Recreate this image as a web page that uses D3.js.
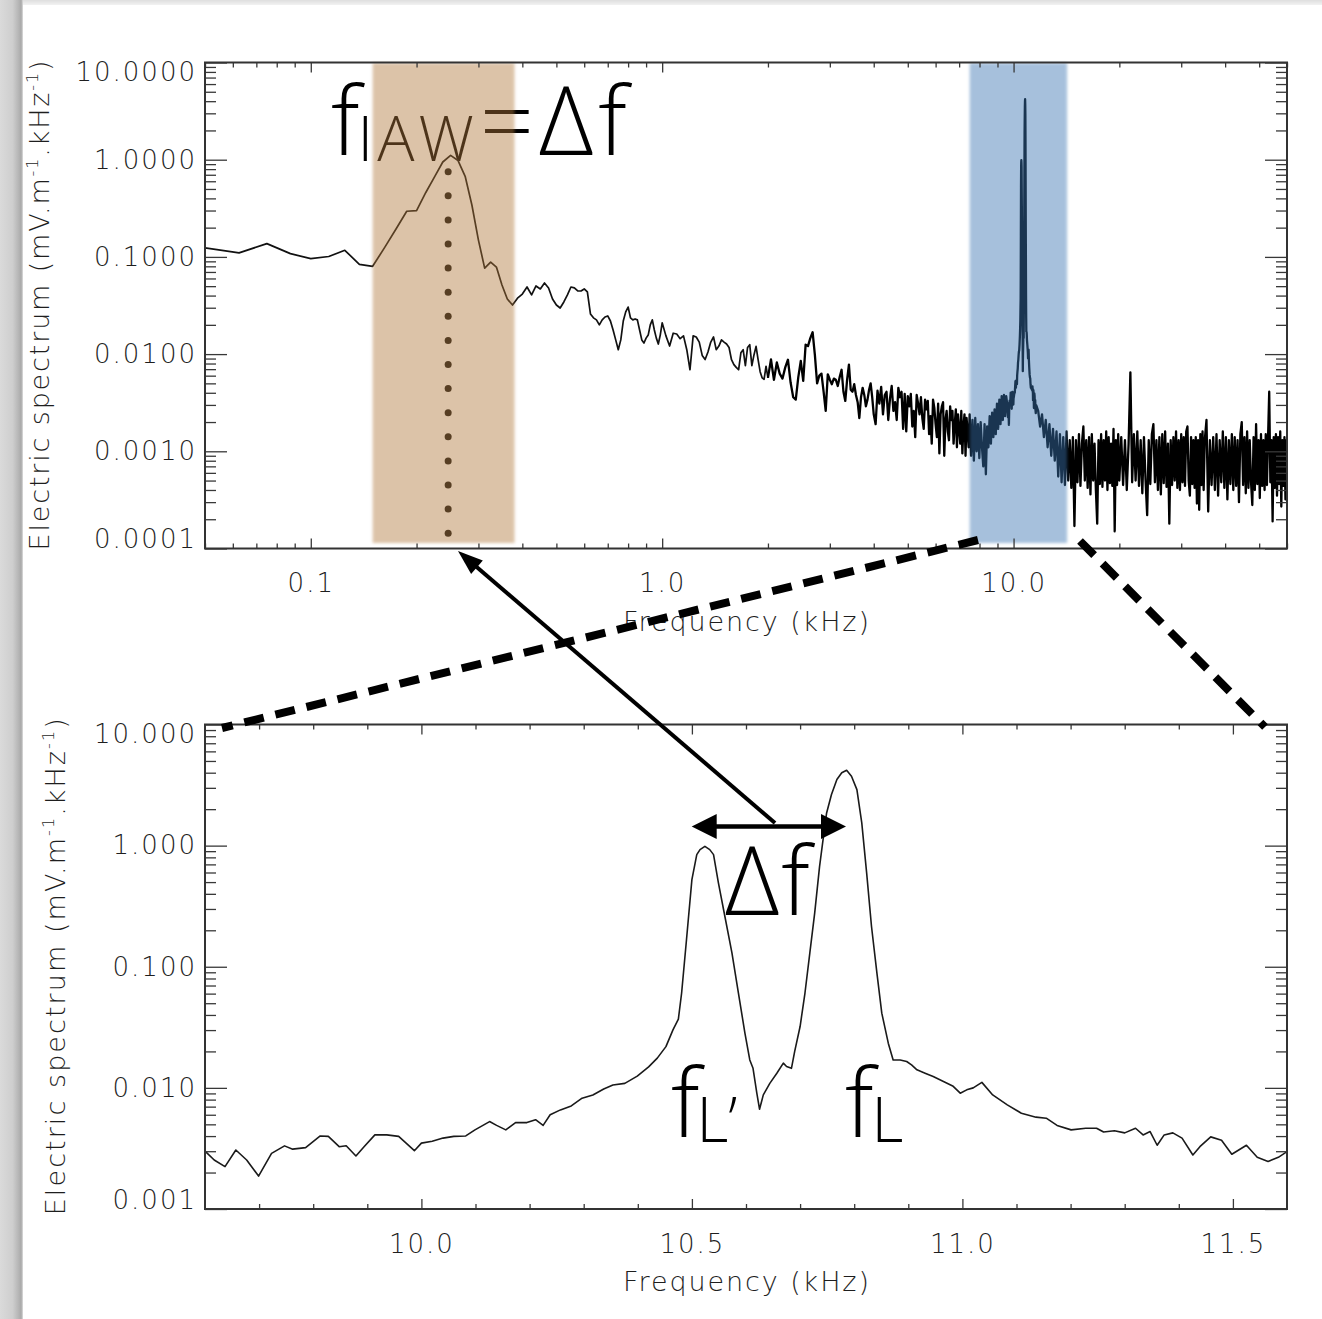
<!DOCTYPE html>
<html><head><meta charset="utf-8">
<script src="https://cdn.jsdelivr.net/npm/d3@7"></script>
<style>
html,body{margin:0;padding:0;background:#fff;}
svg{display:block;}
</style></head><body>
<svg id="chart" width="1322" height="1319"></svg>
<script>
// ================= DATA =================
// Top spectrum (mV.m^-1.kHz^-1), piecewise regular frequency grids [start kHz, step kHz]
const lowStart = 0.05, lowStep = 0.0125;   // 0.05 .. 1.0 kHz
const lowVals = [0.124,0.110,0.137,0.108,0.096,0.101,0.117,0.0837,0.080,0.126,0.195,0.295,0.299,0.46,0.665,0.947,1.107,0.98,0.675,0.34,0.149,0.0767,0.0885,0.0786,0.0514,0.0369,0.032,0.0376,0.0415,
  0.049,0.0406,0.0502,0.0468,0.0539,0.0479,0.0369,0.032,0.0298,0.0344,0.0406,0.049,0.048,0.0446,0.0446,0.0468,0.0436,0.0259,0.0236,0.0225,0.02,0.0225,0.0241,0.0247,0.0219,0.0177,0.014,0.0111,0.014,0.0219,0.0272,0.0305,0.0236,0.0225,0.023,0.0225,0.0177,0.014,0.013,0.0146,0.0157,0.02,0.0225,0.0177,0.0146,0.0127,0.0157,0.021];
const midStart = 1.025, midStep = 0.025;   // 1.025 .. 2.0 kHz
const midVals = [0.0154,0.0121,0.0164,0.0161,0.0144,0.0154,0.0111,0.0069,0.0154,0.0150,0.0133,0.0097,0.0088,0.0105,0.0133,0.015,0.0111,0.0121,0.014,0.0133,
  0.0127,0.0117,0.00875,0.0078,0.0073,0.0069,0.0103,0.0111,0.0076,0.0117,0.0125,0.0076,0.0098,0.012,0.00875,0.0066,0.0057,0.0055,0.0075,0.0057];
const hiStart = 2.04, hiStep = 0.04;       // 2.04 .. 4.0 kHz
const hiVals = [0.0088,0.00545,0.0082,0.0063,0.0056,0.0073,0.00875,0.0051,0.0036,0.0034,
  0.0058,0.0085,0.0053,0.0125,0.0121,0.0146,0.0168,0.0098,0.005,0.006,
  0.0063,0.0041,0.0026,0.0062,0.00545,0.0049,0.0056,0.00545,0.0047,0.0058,
  0.0069,0.0041,0.0033,0.00545,0.0078,0.0043,0.0041,0.0049,0.0038,0.0032,
  0.0022,0.0036,0.0045,0.0038,0.0029,0.0034,0.0043,0.005,0.0036,0.0024];
const upStart = 4.05, upStep = 0.05;       // 4.05 .. 7.5 kHz
const upVals = [0.0019,0.0042,0.0031,0.0046,0.0024,0.0038,0.0041,0.0021,0.0035,0.0047,
  0.0026,0.0032,0.0021,0.0045,0.0036,0.0041,0.0017,0.0039,0.0016,0.0037,
  0.0029,0.0039,0.0018,0.0026,0.0014,0.0038,0.0031,0.0024,0.0036,0.0022,
  0.0017,0.0034,0.0027,0.0033,0.0015,0.0023,0.0012,0.0034,0.0028,0.0019,
  0.0014,0.0031,0.00095,0.0024,0.0029,0.0032,0.0009,0.0021,0.0026,0.0016,
  0.0013,0.0029,0.0021,0.0026,0.0012,0.0019,0.0027,0.0011,0.0024,0.0017,
  0.0012,0.0026,0.00095,0.0018,0.0024,0.0009,0.0022,0.0016,0.0011,0.0024];
const preStart = 7.57, preStep = 0.07;     // 7.57 .. 9.53 kHz
const preVals = [0.0009,0.0021,0.0008,0.0022,0.001,0.0019,0.00085,0.002,0.0011,0.0007,
  0.0019,0.00058,0.0018,0.0011,0.0023,0.0012,0.0025,0.0014,0.0027,0.0015,
  0.0031,0.0017,0.0034,0.0019,0.0037,0.0021,0.0038,0.0023,0.0037];
// 9.6 .. 11.6 kHz (shown enlarged in the lower panel, also used in the upper one)
const zoomFreq = [9.601,9.617,9.637,9.657,9.677,9.699,9.723,9.747,9.762,9.786,9.813,9.828,9.848,9.861,9.879,9.894,9.914,9.936,9.958,9.987,
  10.0,10.02,10.04,10.06,10.082,10.099,10.126,10.139,10.156,10.174,10.195,10.211,10.225,10.238,10.257,10.277,10.297,10.317,10.337,10.354,
  10.376,10.399,10.42,10.436,10.452,10.465,10.475,10.481,10.49,10.5,10.509,10.515,10.524,10.533,10.54,10.549,10.561,10.574,10.586,10.598,
  10.607,10.613,10.62,10.625,10.632,10.644,10.657,10.669,10.675,10.684,10.69,10.7,10.709,10.718,10.727,10.736,10.744,10.749,10.758,10.768,
  10.777,10.786,10.795,10.805,10.814,10.823,10.832,10.842,10.851,10.863,10.872,10.885,10.897,10.906,10.916,10.931,10.946,10.965,10.983,10.996,
  11.008,11.02,11.036,11.056,11.083,11.109,11.136,11.155,11.175,11.201,11.228,11.248,11.261,11.281,11.3,11.32,11.334,11.347,11.36,11.373,
  11.389,11.406,11.426,11.439,11.459,11.479,11.498,11.525,11.545,11.565,11.584,11.6];
const zoomVal = [0.00298,0.00254,0.00224,0.00307,0.00254,0.00187,0.00288,0.00332,0.00312,0.00321,0.00401,0.00398,0.00327,0.00333,0.00274,0.00327,0.00409,0.00409,0.00398,0.00303,
  0.0035,0.00363,0.00385,0.00398,0.00401,0.0045,0.00527,0.0049,0.0045,0.00517,0.00517,0.00546,0.0049,0.006,0.00658,0.0071,0.00822,0.00874,0.00978,0.01055,
  0.0109,0.0125,0.0149,0.0176,0.0219,0.0301,0.037,0.0607,0.167,0.524,0.843,0.927,0.987,0.927,0.843,0.492,0.26,0.13,0.0607,0.0283,
  0.017,0.0145,0.00904,0.00667,0.00875,0.0109,0.0132,0.016,0.015,0.0145,0.02,0.0321,0.0607,0.13,0.278,0.675,1.27,1.86,2.64,3.51,
  3.99,4.19,3.74,2.9,1.54,0.595,0.215,0.0887,0.0414,0.0234,0.017,0.017,0.0165,0.0155,0.0141,0.0132,0.0124,0.0113,0.0103,0.00904,
  0.00963,0.01,0.0111,0.00874,0.00724,0.00618,0.00573,0.00562,0.0049,0.0045,0.00464,0.00464,0.00432,0.00443,0.00425,0.00464,0.00409,0.00436,0.00336,0.00409,
  0.00425,0.00385,0.00279,0.00327,0.00394,0.0037,0.00283,0.00336,0.00267,0.00247,0.00267,0.00298];
const postStart = 11.75, postStep = 0.15;  // 11.75 .. 20 kHz
const postVals = [0.0026,0.0018,0.0024,0.0014,0.0021,0.0011,0.0019,0.0009,0.0017,0.0008,
  0.0016,0.00055,0.0015,0.00048,0.0014,0.00045,0.0016,0.0005,0.0013,0.00042,
  0.0014,0.00017,0.0013,0.00048,0.0015,0.00044,0.0012,0.0018,0.0005,0.0013,
  0.00042,0.0014,0.00036,0.0015,0.0005,0.0012,0.0004,0.00018,0.0013,0.00046,
  0.0015,0.00043,0.0013,0.0005,0.0016,0.0004,0.0014,0.00047,0.0012,0.00044,
  0.0017,0.00015,0.0013,0.00045,0.0015,0.0005];
const farStart = 20.25, farStep = 0.25;    // 20.25 .. 35 kHz
const farVals = [0.0014,0.00045,0.0013,0.0004,0.0012,0.0065,0.00048,0.0015,0.0005,0.0016,
  0.00044,0.0013,0.00037,0.0014,0.0005,0.00022,0.0013,0.00046,0.0015,0.0019,
  0.00048,0.0013,0.0004,0.0014,0.00036,0.0015,0.00047,0.0016,0.00043,0.0012,
  0.00018,0.0013,0.00045,0.0014,0.0005,0.0016,0.00042,0.0013,0.0004,0.0015,
  0.00048,0.0014,0.00044,0.0016,0.0018,0.0005,0.00035,0.0014,0.00046,0.0013,
  0.00042,0.0014,0.00029,0.0013,0.00025,0.0015,0.00045,0.0016,0.0004,0.0013];
const endStart = 35.4, endStep = 0.4;      // 35.4 .. 60.2 kHz
const endVals = [0.0021,0.00024,0.0013,0.00045,0.0014,0.0004,0.0015,0.00035,0.0013,0.00048,
  0.0016,0.00042,0.0014,0.00032,0.0013,0.00046,0.0015,0.0004,0.0014,0.00044,
  0.0013,0.0003,0.0015,0.002,0.00045,0.0014,0.00037,0.0016,0.00042,0.0013,
  0.00048,0.00028,0.0014,0.0004,0.0019,0.00046,0.0013,0.00033,0.0015,0.00044,
  0.0013,0.0004,0.0015,0.00045,0.0014,0.0041,0.00048,0.0013,0.00019,0.0014,
  0.00042,0.0015,0.00035,0.0014,0.00046,0.0016,0.00027,0.0013,0.00044,0.0014,
  0.00032,0.0013,0.00024];

// shaded frequency bands (kHz) and marked ion-acoustic frequency
const iawBand = [0.15, 0.38];
const langmuirBand = [7.5, 14.2];
const fIAW = 0.246;

// tick labels
const topYTicks = [1e-4, 1e-3, 1e-2, 0.1, 1, 10];
const topXTicks = [0.1, 1, 10];
const botYTicks = [1e-3, 1e-2, 0.1, 1, 10];
const botXTicks = [10.0, 10.5, 11.0, 11.5];
const botXMinor = [9.7,9.8,9.9,10.1,10.2,10.3,10.4,10.6,10.7,10.8,10.9,11.1,11.2,11.3,11.4];
const yTitle = ['Electric spectrum (mV.m', '-1', '.kHz', '-1', ')'];
const xTitle = 'Frequency (kHz)';

// ================= BUILD =================
function seg(start, step, vals) { return vals.map((v, i) => ({ f: +(start + i * step).toFixed(4), v })); }
const zoomData = zoomFreq.map((f, i) => ({ f, v: zoomVal[i] }));
const topData = [].concat(
  seg(lowStart, lowStep, lowVals), seg(midStart, midStep, midVals), seg(hiStart, hiStep, hiVals),
  seg(upStart, upStep, upVals), seg(preStart, preStep, preVals), zoomData,
  seg(postStart, postStep, postVals), seg(farStart, farStep, farVals), seg(endStart, endStep, endVals));

function logMinor(lo, hi) {
  const out = [];
  for (let e = -5; e <= 2; e++) for (let m = 2; m <= 9; m++) {
    const v = +(m * Math.pow(10, e)).toPrecision(3);
    if (v >= lo * 0.999 && v <= hi * 1.001) out.push(v);
  }
  return out;
}

const W = 1322, H = 1319;
const svg = d3.select('#chart');
const defs = svg.append('defs');

const xTop = d3.scaleLog().domain([0.05, 60]).range([205, 1287]);
const yTop = d3.scaleLog().domain([1e-4, 10]).range([548.5, 62.5]);
const xBot = d3.scaleLinear().domain([9.6, 11.6]).range([205, 1287]);
const yBot = d3.scaleLog().domain([1e-3, 10]).range([1209, 724.5]);

// background & page shadow
svg.append('rect').attr('width', W).attr('height', H).attr('fill', '#fff');
const tg = defs.append('linearGradient').attr('id', 'tshade').attr('x1', 0).attr('x2', 0).attr('y1', 0).attr('y2', 1);
[[0, '#dedede'], [1, '#f2f2f2']].forEach(([o, c]) => tg.append('stop').attr('offset', o).attr('stop-color', c));
svg.append('rect').attr('x', 0).attr('y', 0).attr('width', W).attr('height', 5).attr('fill', 'url(#tshade)');
const lg = defs.append('linearGradient').attr('id', 'lshade').attr('x1', 0).attr('x2', 1).attr('y1', 0).attr('y2', 0);
[[0, '#dadada'], [0.55, '#cecece'], [0.8, '#b6b6b6'], [0.92, '#a9a9a9'], [1, '#dedede']].forEach(([o, c]) => lg.append('stop').attr('offset', o).attr('stop-color', c));
svg.append('rect').attr('x', 0).attr('y', 0).attr('width', 23).attr('height', H).attr('fill', 'url(#lshade)');

defs.append('filter').attr('id', 'soft').attr('x', '-10%').attr('y', '-2%').attr('width', '120%').attr('height', '104%')
  .append('feGaussianBlur').attr('stdDeviation', 1.4);
defs.append('clipPath').attr('id', 'clipTop').append('rect').attr('x', 205).attr('y', 62.5).attr('width', 1082).attr('height', 486);
defs.append('clipPath').attr('id', 'clipBot').append('rect').attr('x', 205).attr('y', 724.5).attr('width', 1082).attr('height', 484.5);

const tickFont = "'DejaVu Sans', sans-serif";
const annFont = "'Open Sans', 'Noto Sans', sans-serif";
const axisInk = '#1e1e1e';

function richText(parent, x, y, parts) {
  const t = parent.append('text').attr('x', x).attr('y', y)
    .attr('font-family', annFont).attr('font-weight', 300).attr('fill', '#000');
  parts.forEach(([s, size, dy, dx, ls]) => t.append('tspan').attr('font-size', size).attr('dy', dy)
    .attr('dx', dx || 0).style('letter-spacing', (ls || 0) + 'px').text(s));
  return t;
}

function axes(g, x, y, cfg) {
  const [x0, x1] = x.range(), [y0, y1] = y.range();
  const sty = s => { s.attr('color', '#383838'); s.select('.domain').remove(); s.selectAll('line').attr('stroke-width', 1.3); };
  const left = g.append('g').attr('transform', `translate(${x0},0)`)
    .call(d3.axisLeft(y).tickValues(cfg.yMajor).tickFormat(cfg.yFmt).tickSize(-22).tickPadding(10)).call(sty);
  g.append('g').attr('transform', `translate(${x0},0)`).call(d3.axisLeft(y).tickValues(cfg.yMinor).tickFormat('').tickSize(-11)).call(sty);
  g.append('g').attr('transform', `translate(${x1},0)`).call(d3.axisRight(y).tickValues(cfg.yMajor).tickFormat('').tickSize(-22)).call(sty);
  g.append('g').attr('transform', `translate(${x1},0)`).call(d3.axisRight(y).tickValues(cfg.yMinor).tickFormat('').tickSize(-11)).call(sty);
  const bottom = g.append('g').attr('transform', `translate(0,${y0})`)
    .call(d3.axisBottom(x).tickValues(cfg.xMajor).tickFormat(cfg.xFmt).tickSize(-10).tickPadding(cfg.xPad)).call(sty);
  g.append('g').attr('transform', `translate(0,${y0})`).call(d3.axisBottom(x).tickValues(cfg.xMinor).tickFormat('').tickSize(-5)).call(sty);
  g.append('g').attr('transform', `translate(0,${y1})`).call(d3.axisTop(x).tickValues(cfg.xMajor).tickFormat('').tickSize(-10)).call(sty);
  g.append('g').attr('transform', `translate(0,${y1})`).call(d3.axisTop(x).tickValues(cfg.xMinor).tickFormat('').tickSize(-5)).call(sty);
  [left, bottom].forEach(a => a.selectAll('text')
    .style('font-family', tickFont).style('font-size', '26px').style('font-weight', 200)
    .style('letter-spacing', '2px').style('fill', axisInk));
  const yMax = cfg.yMajor[cfg.yMajor.length - 1], yMin = cfg.yMajor[0];
  left.selectAll('text').attr('y', d => d === yMax ? 10 : (d === yMin ? -9 : 0)).attr('x', -8);
  g.append('rect').attr('x', x0).attr('y', y1).attr('width', x1 - x0).attr('height', y0 - y1)
    .attr('fill', 'none').attr('stroke', '#333').attr('stroke-width', 2);
  // titles
  g.append('text').attr('x', (x0 + x1) / 2).attr('y', y0 + cfg.xTitleDy).attr('text-anchor', 'middle')
    .attr('font-family', tickFont).attr('font-size', 27).attr('font-weight', 200).attr('fill', axisInk)
    .attr('textLength', 246).attr('lengthAdjust', 'spacing').text(xTitle);
  const yt = g.append('text').attr('transform', `translate(${cfg.yTitleX},${(y0 + y1) / 2}) rotate(-90)`)
    .attr('text-anchor', 'middle').attr('font-family', tickFont).attr('font-size', 27).attr('font-weight', 200).attr('fill', axisInk)
    .attr('textLength', cfg.yTitleLen).attr('lengthAdjust', 'spacing');
  yTitle.forEach((s, i) => {
    const sup = i % 2 === 1;
    yt.append('tspan').attr('font-size', sup ? 16 : 27).attr('dy', sup ? -11 : (i > 0 ? 11 : 0)).text(s);
  });
}

// ---------------- TOP PANEL ----------------
const topG = svg.append('g');
richText(topG, 331, 155, [['f', 95, 0], ['IAW', 62, 6, -2, 4], ['=Δf', 95, -6, 2, 5]]);

const lineTop = d3.line().x(d => xTop(d.f)).y(d => yTop(d.v));
const smoothPart = topData.filter(d => d.f <= 2.0);
const noisyPart = topData.filter(d => d.f >= 2.0);
topG.append('path').datum(smoothPart).attr('clip-path', 'url(#clipTop)')
  .attr('d', lineTop).attr('fill', 'none').attr('stroke', '#111').attr('stroke-width', 1.7).attr('stroke-linejoin', 'round');
topG.append('path').datum(noisyPart).attr('clip-path', 'url(#clipTop)')
  .attr('d', lineTop).attr('fill', 'none').attr('stroke', '#000').attr('stroke-width', 2.3).attr('stroke-linejoin', 'round');

// dotted marker at f_IAW
topG.append('g').selectAll('circle').data(d3.range(16)).join('circle')
  .attr('cx', xTop(fIAW)).attr('cy', i => 171.7 + i * 24.1).attr('r', 3.5).attr('fill', '#111');

// semi-transparent bands over the curve
topG.append('rect').attr('x', xTop(iawBand[0])).attr('width', xTop(iawBand[1]) - xTop(iawBand[0]))
  .attr('y', 63).attr('height', 480).attr('fill', 'rgb(176,120,58)').attr('opacity', 0.44).attr('filter', 'url(#soft)');
topG.append('rect').attr('x', xTop(langmuirBand[0])).attr('width', xTop(langmuirBand[1]) - xTop(langmuirBand[0]))
  .attr('y', 63).attr('height', 480).attr('fill', 'rgb(58,118,179)').attr('opacity', 0.45).attr('filter', 'url(#soft)');

axes(topG, xTop, yTop, {
  yMajor: topYTicks, yMinor: logMinor(1e-4, 10), yFmt: d3.format('.4f'),
  xMajor: topXTicks, xMinor: logMinor(0.05, 60), xFmt: d3.format('.1f'), xPad: 25,
  xTitleDy: 82, yTitleX: 49, yTitleLen: 490
});

// ---------------- BOTTOM PANEL ----------------
const botG = svg.append('g');
const lineBot = d3.line().x(d => xBot(d.f)).y(d => yBot(d.v));
botG.append('path').datum(zoomData).attr('clip-path', 'url(#clipBot)')
  .attr('d', lineBot).attr('fill', 'none').attr('stroke', '#1a1a1a').attr('stroke-width', 1.6).attr('stroke-linejoin', 'round');

axes(botG, xBot, yBot, {
  yMajor: botYTicks, yMinor: logMinor(1e-3, 10), yFmt: d3.format('.3f'),
  xMajor: botXTicks, xMinor: botXMinor, xFmt: d3.format('.1f'), xPad: 26,
  xTitleDy: 82, yTitleX: 65, yTitleLen: 497
});

// ---------------- ANNOTATIONS ----------------
const ann = svg.append('g');
richText(ann, 725, 915, [['Δf', 95, 0, 0, 2]]);
richText(ann, 671, 1137, [['f', 95, 0], ['L’', 62, 5, -3]]);
richText(ann, 845, 1137, [['f', 95, 0], ['L', 62, 5, -2, 2]]);

// dashed zoom connectors
ann.append('line').attr('x1', 978).attr('y1', 540).attr('x2', 222).attr('y2', 728)
  .attr('stroke', '#000').attr('stroke-width', 8).attr('stroke-dasharray', '20,12');
ann.append('line').attr('x1', 1080).attr('y1', 541).attr('x2', 1265).attr('y2', 727)
  .attr('stroke', '#000').attr('stroke-width', 8).attr('stroke-dasharray', '20,12');

// arrow from Δf up to f_IAW
function arrowHead(tipX, tipY, fromX, fromY, len, hw) {
  const dx = tipX - fromX, dy = tipY - fromY, L = Math.hypot(dx, dy), ux = dx / L, uy = dy / L;
  const bx = tipX - ux * len, by = tipY - uy * len;
  return [[tipX, tipY], [bx - uy * hw, by + ux * hw], [bx + uy * hw, by - ux * hw]];
}
const aStart = [775, 823], aTip = [458, 551];
ann.append('line').attr('x1', aStart[0]).attr('y1', aStart[1]).attr('x2', aTip[0] + 14).attr('y2', aTip[1] + 12)
  .attr('stroke', '#000').attr('stroke-width', 4);
ann.append('polygon').attr('points', arrowHead(aTip[0], aTip[1], aStart[0], aStart[1], 25, 9).join(' ')).attr('fill', '#000');

// double arrow between f_L' and f_L
const dy0 = 826.5, dl = 691.7, dr = 846;
ann.append('line').attr('x1', dl + 20).attr('y1', dy0).attr('x2', dr - 20).attr('y2', dy0).attr('stroke', '#000').attr('stroke-width', 4.5);
ann.append('polygon').attr('points', arrowHead(dl, dy0, dr, dy0, 25, 12.5).join(' ')).attr('fill', '#000');
ann.append('polygon').attr('points', arrowHead(dr, dy0, dl, dy0, 25, 12.5).join(' ')).attr('fill', '#000');
</script>
</body></html>
